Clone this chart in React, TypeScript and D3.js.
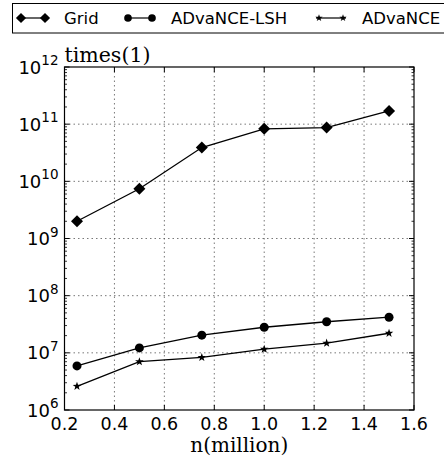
import React from "react";
import * as d3 from "d3";

const xs = [0.25, 0.5, 0.75, 1.0, 1.25, 1.5];
const gridVals = [2.0e9, 7.4e9, 3.9e10, 8.3e10, 8.7e10, 1.7e11];
const lshVals = [5.9e6, 1.22e7, 2.04e7, 2.8e7, 3.5e7, 4.2e7];
const advVals = [2.6e6, 7.0e6, 8.3e6, 1.16e7, 1.48e7, 2.2e7];
const xTicks = [0.2, 0.4, 0.6, 0.8, 1.0, 1.2, 1.4, 1.6];
const yExps = [6, 7, 8, 9, 10, 11, 12];
const seriesNames = ["Grid", "ADvaNCE-LSH", "ADvaNCE"];

const W = 444, H = 462;
const L = 64.5, R = 414, T = 67, B = 410;

function starPath(cx: number, cy: number, r: number) {
  const pts: string[] = [];
  for (let i = 0; i < 10; i++) {
    const a = -Math.PI / 2 + (i * Math.PI) / 5;
    const rr = i % 2 === 0 ? r : r * 0.4;
    pts.push(`${cx + rr * Math.cos(a)},${cy + rr * Math.sin(a)}`);
  }
  return "M" + pts.join("L") + "Z";
}

function Marker({ kind, x, y, sc = 1 }: { kind: number; x: number; y: number; sc?: number }) {
  if (kind === 0) {
    const s = 6 * sc;
    return <path d={`M${x},${y - s}L${x + s},${y}L${x},${y + s}L${x - s},${y}Z`} fill="black" />;
  }
  if (kind === 1) return <circle cx={x} cy={y} r={4.5 * sc} fill="black" />;
  return <path d={starPath(x, y, 4.5 * sc)} fill="black" />;
}

export default function App() {
  const x = d3.scaleLinear().domain([0.2, 1.6]).range([L, R]);
  const y = d3.scaleLog().domain([1e6, 1e12]).range([B, T]);
  const line = d3.line<number>().x((_, i) => x(xs[i])).y((d) => y(d));
  const allSeries = [gridVals, lshVals, advVals];

  const minor: number[] = [];
  for (let e = 6; e < 12; e++) for (let m = 2; m <= 9; m++) minor.push(m * Math.pow(10, e));

  const legendItems = [
    { mx: 18, tx: 64 },
    { mx: 125, tx: 171 },
    { mx: 316, tx: 362 },
  ];

  return (
    <svg width={W} height={H} style={{ position: "absolute", left: 0, top: 0 }}>
      <rect x={0} y={0} width={W} height={H} fill="white" />
      {/* legend */}
      <rect x={12.5} y={3.5} width={440} height={29.5} fill="white" stroke="black" strokeWidth={1} />
      {legendItems.map((it, i) => (
        <g key={i}>
          <line x1={it.mx} x2={it.mx + 30} y1={18} y2={18} stroke="black" strokeWidth={1.2} />
          <Marker kind={i} x={it.mx + 3} y={18} sc={0.85} />
          <Marker kind={i} x={it.mx + 27} y={18} sc={0.85} />
          <text x={it.tx} y={23.5} fontFamily="DejaVu Sans" fontSize={16.5}>{seriesNames[i]}</text>
        </g>
      ))}
      {/* grid */}
      {xTicks.slice(1, -1).map((t) => (
        <line key={t} x1={x(t)} x2={x(t)} y1={T} y2={B} stroke="#555" strokeWidth={0.8} strokeDasharray="1.5,3" />
      ))}
      {yExps.slice(1, -1).map((e) => (
        <line key={e} x1={L} x2={R} y1={y(Math.pow(10, e))} y2={y(Math.pow(10, e))} stroke="#555" strokeWidth={0.8} strokeDasharray="1.5,3" />
      ))}
      {/* ticks */}
      {yExps.map((e) => (
        <g key={e}>
          <line x1={L} x2={L + 5} y1={y(Math.pow(10, e))} y2={y(Math.pow(10, e))} stroke="black" />
          <line x1={R} x2={R - 5} y1={y(Math.pow(10, e))} y2={y(Math.pow(10, e))} stroke="black" />
        </g>
      ))}
      {minor.map((v) => (
        <g key={v}>
          <line x1={L} x2={L + 2.5} y1={y(v)} y2={y(v)} stroke="black" strokeWidth={0.8} />
          <line x1={R} x2={R - 2.5} y1={y(v)} y2={y(v)} stroke="black" strokeWidth={0.8} />
        </g>
      ))}
      {xTicks.map((t) => (
        <g key={t}>
          <line x1={x(t)} x2={x(t)} y1={B} y2={B - 5} stroke="black" />
          <line x1={x(t)} x2={x(t)} y1={T} y2={T + 5} stroke="black" />
        </g>
      ))}
      <rect x={L} y={T} width={R - L} height={B - T} fill="none" stroke="black" strokeWidth={1.2} />
      {/* series */}
      {allSeries.map((s, i) => (
        <g key={i}>
          <path d={line(s) || ""} fill="none" stroke="black" strokeWidth={1.3} />
          {s.map((v, j) => (
            <Marker key={j} kind={i} x={x(xs[j])} y={y(v)} />
          ))}
        </g>
      ))}
      {/* tick labels */}
      {xTicks.map((t) => (
        <text key={t} x={x(t)} y={429.5} textAnchor="middle" fontFamily="DejaVu Sans" fontSize={17.5}>
          {t.toFixed(1)}
        </text>
      ))}
      {yExps.map((e) => (
        <text key={e} x={L - 6} y={y(Math.pow(10, e)) + 6.5} textAnchor="end" fontFamily="DejaVu Sans" fontSize={18}>
          10<tspan dy={-8.5} fontSize={13.5}>{e}</tspan>
        </text>
      ))}
      <text x={L} y={61.5} fontFamily="DejaVu Serif" fontSize={20.5}>times(1)</text>
      <text x={(L + R) / 2} y={452} textAnchor="middle" fontFamily="DejaVu Serif" fontSize={20}>n(million)</text>
    </svg>
  );
}
